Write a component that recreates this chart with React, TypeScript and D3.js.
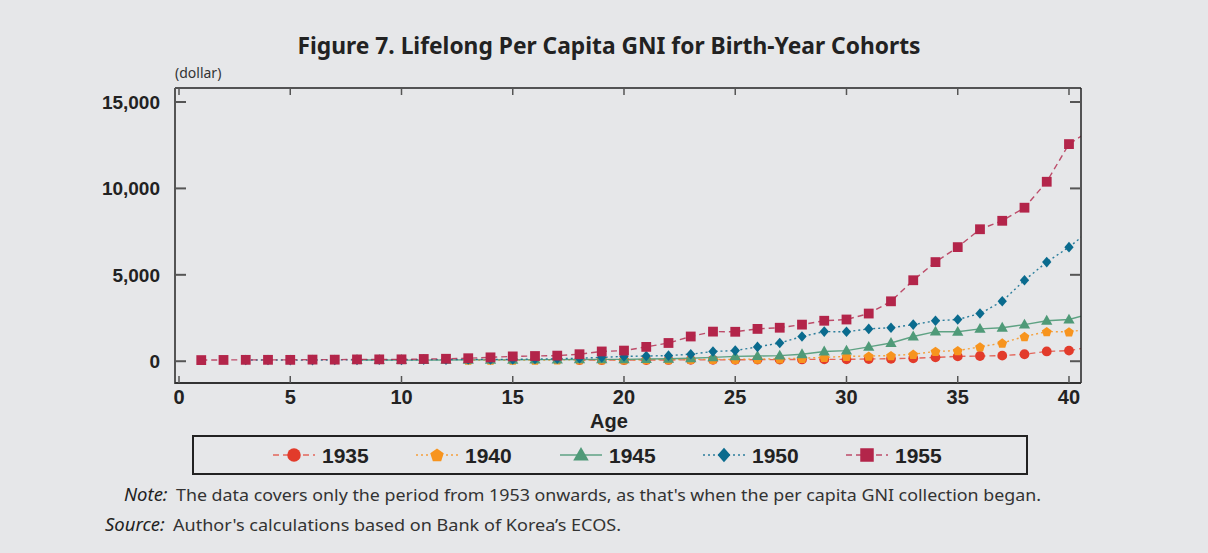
import React from "react";
import * as d3 from "d3";

// ---------- data ----------
const ages = [1, 2, 3, 4, 5, 6, 7, 8, 9, 10, 11, 12, 13, 14, 15, 16, 17, 18, 19, 20, 21, 22, 23, 24, 25, 26, 27, 28, 29, 30, 31, 32, 33, 34, 35, 36, 37, 38, 39, 40, 41];

const cohorts = ["1935", "1940", "1945", "1950", "1955"];

const s1935 = [null, null, null, null, null, null, null, null, null, null, null, null, null, null, null, null, null,
  67, 70, 65, 66, 74, 80, 81, 79, 94, 91, 104, 107, 109, 130, 142, 173, 224, 279, 301, 324, 405, 565, 615, 830];

const s1940 = [null, null, null, null, null, null, null, null, null, null, null, null,
  67, 70, 65, 66, 74, 80, 81, 79, 94, 91, 104, 107, 109, 130, 142, 173, 224, 279, 301, 324, 405, 565, 615, 830, 1055, 1431, 1713, 1704, 1870];

const s1945 = [null, null, null, null, null, null, null,
  67, 70, 65, 66, 74, 80, 81, 79, 94, 91, 104, 107, 109, 130, 142, 173, 224, 279, 301, 324, 405, 565, 615, 830, 1055, 1431, 1713, 1704, 1870, 1938, 2118, 2342, 2414, 2759];

const s1950 = [null, null,
  67, 70, 65, 66, 74, 80, 81, 79, 94, 91, 104, 107, 109, 130, 142, 173, 224, 279, 301, 324, 405, 565, 615, 830, 1055, 1431, 1713, 1704, 1870, 1938, 2118, 2342, 2414, 2759, 3467, 4686, 5736, 6602, 7637];

const s1955 = [66, 74, 80, 81, 79, 94, 91, 104, 107, 109, 130, 142, 173, 224, 279, 301, 324, 405, 565, 615,
  830, 1055, 1431, 1713, 1704, 1870, 1938, 2118, 2342, 2414, 2759, 3467, 4686, 5736, 6602, 7637, 8126, 8884, 10385, 12564, 13403];

const seriesValues = [s1935, s1940, s1945, s1950, s1955];

const yTicks = [0, 5000, 10000, 15000];
const xTicks = [0, 5, 10, 15, 20, 25, 30, 35, 40];

const title = "Figure 7. Lifelong Per Capita GNI for Birth-Year Cohorts";
const unitLabel = "(dollar)";
const xLabel = "Age";
const noteLabel = "Note:";
const noteText = "The data covers only the period from 1953 onwards, as that's when the per capita GNI collection began.";
const sourceLabel = "Source:";
const sourceText = "Author's calculations based on Bank of Korea\u2019s ECOS.";

// ---------- styles ----------
const seriesStyle = [
  { color: "#e23b2b", line: "rgba(226,59,43,0.75)", dash: "6,4", shape: "circle" },
  { color: "#f7941e", line: "rgba(247,148,30,0.85)", dash: "2,3", shape: "pentagon" },
  { color: "#4f9a78", line: "rgba(79,154,120,0.9)", dash: "", shape: "triangle" },
  { color: "#0a6b8e", line: "rgba(10,107,142,0.85)", dash: "2,3", shape: "diamond" },
  { color: "#b3254a", line: "rgba(179,37,74,0.8)", dash: "6,4", shape: "square" },
];

function markerPath(shape: string, s: number): string {
  const r = s / 2;
  switch (shape) {
    case "circle":
      return `M${r},0A${r},${r},0,1,1,${-r},0A${r},${r},0,1,1,${r},0Z`;
    case "square":
      return `M${-r},${-r}L${r},${-r}L${r},${r}L${-r},${r}Z`;
    case "triangle": {
      const w = (s * 1.15) / 2;
      const h = s;
      return `M0,${-h * 0.6}L${w},${h * 0.4}L${-w},${h * 0.4}Z`;
    }
    case "diamond": {
      const hw = r * 0.95;
      const hh = r * 1.08;
      return `M0,${-hh}L${hw},0L0,${hh}L${-hw},0Z`;
    }
    case "pentagon": {
      const R = r * 1.05;
      const pts = d3.range(5).map((k) => {
        const a = ((-90 + 72 * k) * Math.PI) / 180;
        return [R * Math.cos(a), R * Math.sin(a) + 0.5];
      });
      return "M" + pts.map((p) => p.join(",")).join("L") + "Z";
    }
  }
  return "";
}

const W = 1208;
const H = 553;
const plot = { left: 175, right: 1081, top: 88, bottom: 383 };

export default function App() {
  const x = d3.scaleLinear().domain([-0.18, 40.54]).range([plot.left, plot.right]);
  const y = d3.scaleLinear().domain([-1260, 15810]).range([plot.bottom, plot.top]);

  const lineGen = d3
    .line<[number, number | null]>()
    .defined((d) => d[1] != null)
    .x((d) => x(d[0]))
    .y((d) => y(d[1] as number));

  const legendX = [294, 437, 581, 724, 867];
  const legendY = 455;
  const font = "'Liberation Sans', Arial, sans-serif";
  const textFont = "'Noto Sans', sans-serif";

  return (
    <svg
      width={W}
      height={H}
      style={{ position: "absolute", left: 0, top: 0, display: "block" }}
      xmlns="http://www.w3.org/2000/svg"
    >
      <defs>
        <clipPath id="plotClip">
          <rect x={plot.left} y={plot.top} width={plot.right - plot.left} height={plot.bottom - plot.top} />
        </clipPath>
      </defs>
      <rect x={0} y={0} width={W} height={H} fill="#e6e7e9" />

      {/* title */}
      <text
        x={609}
        y={54}
        textAnchor="middle"
        fontFamily={textFont}
        fontWeight={700}
        fontSize={24}
        fill="#222"
        textLength={623}
        lengthAdjust="spacingAndGlyphs"
      >
        {title}
      </text>

      <text x={175} y={78} fontFamily={textFont} fontSize={14} fill="#333">
        {unitLabel}
      </text>

      {/* series */}
      <g clipPath="url(#plotClip)">
        {seriesValues.map((vals, i) => {
          const pts = ages.map((a, j) => [a, vals[j]] as [number, number | null]);
          const st = seriesStyle[i];
          return (
            <g key={cohorts[i]}>
              <path
                d={lineGen(pts) || ""}
                fill="none"
                stroke={st.line}
                strokeWidth={1.4}
                strokeDasharray={st.dash || undefined}
              />
              {pts
                .filter((p) => p[1] != null)
                .map((p) => (
                  <path
                    key={p[0]}
                    d={markerPath(st.shape, 9.8)}
                    transform={`translate(${x(p[0])},${y(p[1] as number)})`}
                    fill={st.color}
                  />
                ))}
            </g>
          );
        })}
      </g>

      {/* frame */}
      <line x1={plot.left} x2={plot.right} y1={plot.top} y2={plot.top} stroke="#222" strokeWidth={1.5} />
      <line x1={plot.right} x2={plot.right} y1={plot.top} y2={plot.bottom} stroke="#222" strokeWidth={1.5} />
      <line x1={plot.left} x2={plot.left} y1={plot.top} y2={plot.bottom + 1} stroke="#555" strokeWidth={2} />
      <line x1={plot.left} x2={plot.right} y1={plot.bottom} y2={plot.bottom} stroke="#333" strokeWidth={2} />

      {/* y ticks */}
      {yTicks.map((t) => (
        <g key={t}>
          <line x1={plot.left} x2={plot.left + 11} y1={y(t)} y2={y(t)} stroke="#555" strokeWidth={2} />
          <line x1={plot.right - 11} x2={plot.right} y1={y(t)} y2={y(t)} stroke="#555" strokeWidth={2} />
          <text
            x={160}
            y={y(t)}
            dy="0.36em"
            textAnchor="end"
            fontFamily={font}
            fontWeight={700}
            fontSize={19}
            fill="#222"
          >
            {d3.format(",")(t)}
          </text>
        </g>
      ))}

      {/* x ticks */}
      {xTicks.map((t) => (
        <g key={t}>
          <line x1={x(t)} x2={x(t)} y1={plot.bottom} y2={plot.bottom - 7} stroke="#555" strokeWidth={1.5} />
          <line x1={x(t)} x2={x(t)} y1={plot.top} y2={plot.top + 7} stroke="#555" strokeWidth={1.5} />
          <text
            x={x(t)}
            y={404}
            textAnchor="middle"
            fontFamily={font}
            fontWeight={700}
            fontSize={20}
            fill="#222"
          >
            {t}
          </text>
        </g>
      ))}
      <text x={609} y={428} textAnchor="middle" fontFamily={font} fontWeight={700} fontSize={20} fill="#222">
        {xLabel}
      </text>

      {/* legend */}
      <rect x={193} y={436} width={834} height={38} fill="none" stroke="#222" strokeWidth={2} />
      {cohorts.map((c, i) => {
        const st = seriesStyle[i];
        const cx = legendX[i];
        return (
          <g key={c}>
            <line
              x1={cx - 21}
              x2={cx + 21}
              y1={legendY}
              y2={legendY}
              stroke={st.line}
              strokeWidth={1.4}
              strokeDasharray={st.dash || undefined}
            />
            <path d={markerPath(st.shape, 13.5)} transform={`translate(${cx},${legendY})`} fill={st.color} />
            <text
              x={cx + 28}
              y={legendY}
              dy="0.36em"
              fontFamily={font}
              fontWeight={700}
              fontSize={21}
              fill="#222"
            >
              {c}
            </text>
          </g>
        );
      })}

      {/* notes */}
      <text x={124} y={501} fontFamily={textFont} fontSize={18.5} fill="#222" fontStyle="italic">
        {noteLabel}
      </text>
      <text x={176} y={501} fontFamily={textFont} fontSize={16.5} fill="#333" textLength={865} lengthAdjust="spacingAndGlyphs">
        {noteText}
      </text>
      <text x={105} y={531} fontFamily={textFont} fontSize={18.5} fill="#222" fontStyle="italic">
        {sourceLabel}
      </text>
      <text x={173} y={531} fontFamily={textFont} fontSize={16.5} fill="#333" textLength={448} lengthAdjust="spacingAndGlyphs">
        {sourceText}
      </text>
    </svg>
  );
}
